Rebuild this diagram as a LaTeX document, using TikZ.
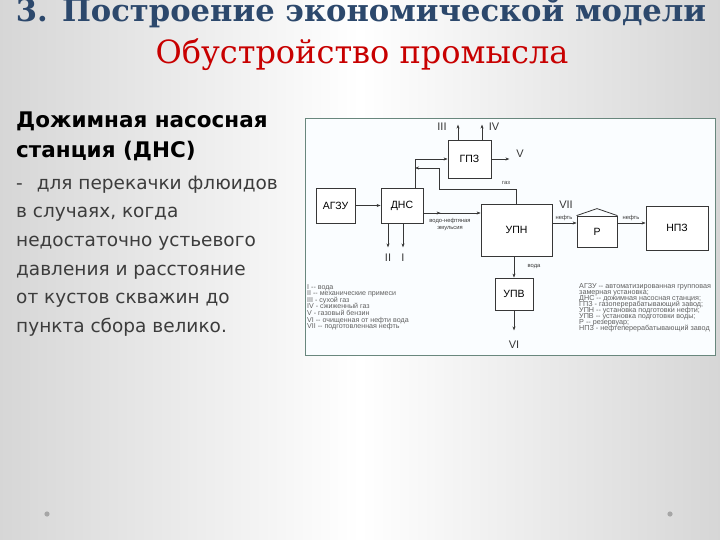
\documentclass[tikz,border=0pt]{standalone}
\usepackage{fontspec}
\setmainfont{DejaVu Serif}
\newfontfamily\schemefont{Liberation Sans}
\newfontfamily\bodyfont{DejaVu Sans}
\usepackage{xcolor}
\usepackage{tikz}
\usetikzlibrary{arrows.meta,positioning,calc,decorations.markings}
\definecolor{titleblue}{RGB}{44,72,108}
\definecolor{subred}{RGB}{200,0,0}
\definecolor{framegreen}{RGB}{105,135,125}
\definecolor{linegray}{RGB}{55,55,55}
\definecolor{textgray}{RGB}{60,60,60}
\newcommand\legtight{\lineskiplimit-20pt\relax}
\tikzset{
  unit/.style={draw=linegray,line width=0.8pt,fill=white,inner sep=0pt,
    font=\schemefont\fontsize{10.5}{11}\selectfont},
  flow/.style={-{Stealth[length=4pt,width=3pt]},line width=0.6pt,draw=linegray},
  midflow/.style={flow,postaction={decorate},decoration={markings,
    mark=at position 0.3 with {\arrow{Stealth[length=4pt,width=3pt]}}}},
  stream/.style={font=\schemefont\fontsize{11}{11}\selectfont,text=linegray,inner sep=0pt},
  tag/.style={font=\schemefont\fontsize{5.8}{6.4}\selectfont,text=linegray,inner sep=0pt,align=center},
  legend/.style={font=\schemefont\fontsize{7.1}{6.6}\selectfont\legtight,text=gray!75!black,
    align=left,inner sep=0pt}
}

\begin{document}
\begin{tikzpicture}[
  x=1pt,y=-1pt,
  slidetitle/.style={font=\fontsize{30.6}{31}\selectfont\bfseries,text=titleblue,anchor=base},
  slidesub/.style={font=\fontsize{32}{32}\selectfont,text=subred,anchor=base},
  headline/.style={font=\bodyfont\bfseries\fontsize{21.5}{22}\selectfont,anchor=base west,inner sep=0pt},
  bodyline/.style={font=\bodyfont\fontsize{18.5}{19}\selectfont,text=textgray,anchor=base west,inner sep=0pt}
]
\useasboundingbox (0,0) rectangle (720,540);
\shade[left color=gray!32,right color=gray!32,middle color=white] (0,0) rectangle (720,540);

% titles
\node[slidetitle] (title) at (361,22) {3. Построение экономической модели};
\node[slidesub] (subtitle) at (362,64) {Обустройство промысла};

% left text
\node[headline] (head1) at (16,128) {Дожимная насосная};
\node[headline] (head2) at (16,158) {станция (ДНС)};
\foreach \y/\txt in {190/{-\hspace{14pt}для перекачки флюидов},
                     218/{в случаях, когда},
                     247/{недостаточно устьевого},
                     275/{давления и расстояние},
                     303/{от кустов скважин до},
                     332/{пункта сбора велико.}}{
  \node[bodyline] at (16,\y) {\txt};
}

% scheme frame
\draw[framegreen,line width=0.9pt,fill=cyan!2] (305,118) rectangle (715,355);

\node[unit,minimum width=39pt,minimum height=35pt] (agzu) at (335.5,205.5) {АГЗУ};
\node[unit,minimum width=42pt,minimum height=35pt] (dns)  at (402,205.5) {ДНС};
\node[unit,minimum width=43pt,minimum height=38pt] (gpz)  at (469.5,159) {ГПЗ};
\node[unit,minimum width=71pt,minimum height=52pt] (upn)  at (516.5,230) {УПН};
\node[unit,minimum width=40pt,minimum height=31pt] (res)  at (597,231.5) {Р};
\node[unit,minimum width=62pt,minimum height=44pt] (npz)  at (677,228) {НПЗ};
\node[unit,minimum width=38pt,minimum height=32pt] (upv)  at (514,294) {УПВ};
\draw[draw=linegray,line width=0.8pt] (res.north west) -- ([yshift=7pt]res.north) -- (res.north east);

\coordinate (riser) at ([xshift=13pt]dns.north);
\coordinate (gasbend) at (439,189);
\coordinate (gastop) at (439,168);

\draw[flow] (agzu) -- (dns);
\draw[midflow] ([yshift=-7.5pt]dns.east) -- ([yshift=-7.5pt]dns.east -| upn.west);
\draw[flow] (riser) |- (gpz.west);
\draw[flow] (upn.north) |- (gasbend) |- (riser |- gastop);
\draw[flow] ([xshift=-11.5pt]gpz.north) -- ++(0,-15);
\draw[flow] ([xshift=12.5pt]gpz.north) -- ++(0,-15);
\draw[flow] (gpz.east) -- ++(18,0);
\draw[flow] ([xshift=-14pt]dns.south) -- ++(0,24);
\draw[flow] ([xshift=1pt]dns.south) -- ++(0,24);
\draw[flow] ([yshift=7pt]upn.east) -- ([yshift=7pt]upn.east -| res.west);
\draw[flow] ([yshift=8.5pt]res.east) -- ([yshift=8.5pt]res.east -| npz.west);
\draw[flow] (upv.north |- upn.south) -- (upv.north);
\draw[flow] (upv.south) -- ++(0,20);

% stream numbers
\node[stream] (s3) at (442,127) {III};
\node[stream] (s4) at (494,127) {IV};
\node[stream] (s5) at (520,154) {V};
\node[stream] (s2) at (388,258) {II};
\node[stream] (s1) at (403,258) {I};
\node[stream] (s7) at (566,205) {VII};
\node[stream] (s6) at (514,345) {VI};

\node[tag] (gas)   at (506,183) {газ};
\node[tag] (emul)  at (450,224.5) {водо-нефтяная\\эмульсия};
\node[tag] (oil1)  at (564,218) {нефть};
\node[tag] (oil2)  at (631,218) {нефть};
\node[tag] (water) at (534,267) {вода};

\node[legend,anchor=north west] (legstreams) at (307,284) {I -- вода\\
  II -- механические примеси\\
  III - сухой газ\\
  IV - сжиженный газ\\
  V - газовый бензин\\
  VI -- очищенная от нефти вода\\
  VII -- подготовленная нефть};
\node[legend,anchor=north west,font=\schemefont\fontsize{7.2}{6}\selectfont\legtight] (legunits) at (579,283) {АГЗУ -- автоматизированная групповая\\
  замерная установка;\\
  ДНС -- дожимная насосная станция;\\
  ГПЗ - газоперерабатывающий завод;\\
  УПН -- установка подготовки нефти;\\
  УПВ -- установка подготовки воды;\\
  Р -- резервуар;\\
  НПЗ - нефтеперерабатывающий завод};

\foreach \x in {47,670}{
  \fill[gray!70] (\x,514) circle (2.6);
}
\end{tikzpicture}
\end{document}
